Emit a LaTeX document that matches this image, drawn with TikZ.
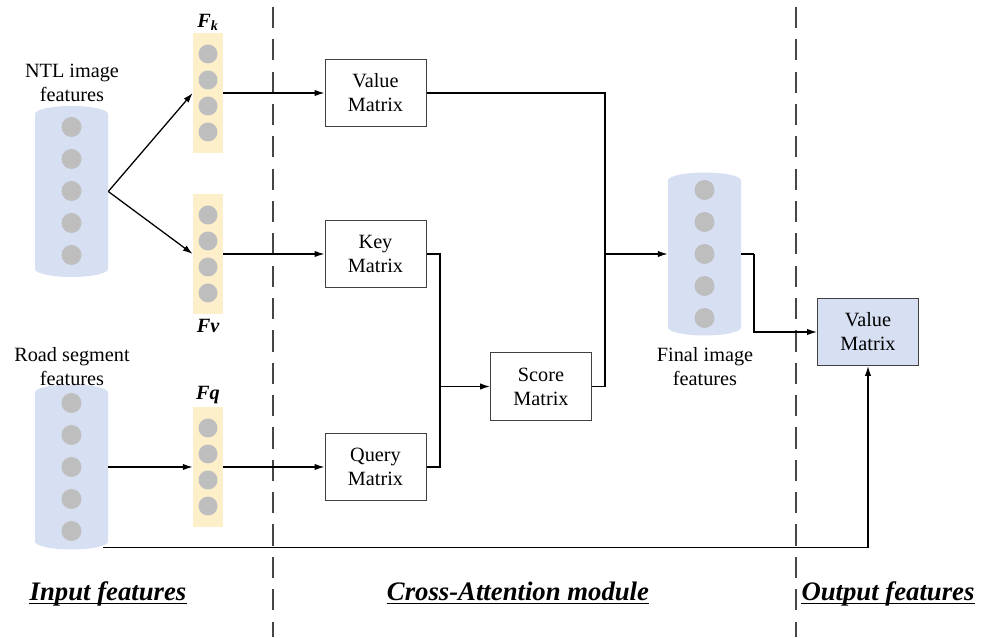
\documentclass[tikz,border=0pt]{standalone}
\usepackage{fontspec}
\setmainfont{Liberation Serif}
\usetikzlibrary{arrows.meta}
\definecolor{cylblue}{RGB}{215,223,243}
\definecolor{baryellow}{RGB}{252,239,201}
\definecolor{dotgray}{RGB}{190,190,190}
\definecolor{divgray}{RGB}{70,70,70}

\begin{document}
\begin{tikzpicture}[x=0.025cm,y=0.025cm,
  font=\fontsize{14.4}{17}\selectfont,
  mat/.style={draw=black!75,line width=0.7pt,minimum width=2.525cm,minimum height=1.675cm,align=center,inner sep=0pt},
  bar/.style={fill=baryellow,minimum width=0.75cm,minimum height=3cm,inner sep=0pt},
  cylarea/.style={inner sep=0pt,minimum width=1.825cm},
  flow/.style={line width=0.9pt,-{Latex[length=7pt,width=4.5pt]}},
  link/.style={line width=0.9pt},
  divider/.style={draw=divgray,line width=1.2pt,dash pattern=on 15pt off 8pt},
  vlabel/.style={font=\fontsize{14.4}{17}\selectfont\bfseries\itshape},
  part/.style={font=\fontsize{19}{22}\selectfont\bfseries\itshape,inner sep=0pt,anchor=base}]
\useasboundingbox (0,0) rectangle (990,637);
\draw[divider] (273,630) -- (273,0);
\draw[divider] (796,630) -- (796,0);
\fill[cylblue] (35,523) arc[start angle=180,end angle=0,x radius=36.5,y radius=8] -- (108,368) arc[start angle=0,end angle=-180,x radius=36.5,y radius=8] -- cycle;
\node[cylarea,minimum height=4.275cm] (ntl) at (71.5,445.5) {};
\fill[dotgray] (71.5,510) circle (10);
\fill[dotgray] (71.5,478) circle (10);
\fill[dotgray] (71.5,446) circle (10);
\fill[dotgray] (71.5,414) circle (10);
\fill[dotgray] (71.5,382) circle (10);
\node[align=center] (ntltxt) at (72,554.5) {NTL image\\features};
\fill[cylblue] (35,244.5) arc[start angle=180,end angle=0,x radius=36.5,y radius=8] -- (108,95.5) arc[start angle=0,end angle=-180,x radius=36.5,y radius=8] -- cycle;
\node[cylarea,minimum height=4.125cm] (road) at (71.5,170) {};
\fill[dotgray] (71.5,234) circle (10);
\fill[dotgray] (71.5,202) circle (10);
\fill[dotgray] (71.5,170) circle (10);
\fill[dotgray] (71.5,138) circle (10);
\fill[dotgray] (71.5,106) circle (10);
\node[align=center] (roadtxt) at (72,270) {Road segment\\features};
\node[bar] (fk) at (208,544) {};
\fill[dotgray] (208,583) circle (9.5);
\fill[dotgray] (208,557) circle (9.5);
\fill[dotgray] (208,531) circle (9.5);
\fill[dotgray] (208,505) circle (9.5);
\node[vlabel] (fklbl) at (208,615) {F\textsubscript{k}};
\node[bar] (fv) at (208,383) {};
\fill[dotgray] (208,422) circle (9.5);
\fill[dotgray] (208,396) circle (9.5);
\fill[dotgray] (208,370) circle (9.5);
\fill[dotgray] (208,344) circle (9.5);
\node[vlabel] (fvlbl) at (208,311) {Fv};
\node[bar] (fq) at (208,170) {};
\fill[dotgray] (208,209) circle (9.5);
\fill[dotgray] (208,183) circle (9.5);
\fill[dotgray] (208,157) circle (9.5);
\fill[dotgray] (208,131) circle (9.5);
\node[vlabel] (fqlbl) at (208,242) {Fq};
\node[mat] (value) at (375.5,544) {Value\\Matrix};
\node[mat] (key) at (375.5,383) {Key\\Matrix};
\node[mat] (query) at (375.5,170) {Query\\Matrix};
\node[mat] (score) at (541,250.5) {Score\\Matrix};
\fill[cylblue] (668,456.5) arc[start angle=180,end angle=0,x radius=36.5,y radius=8] -- (741,309.5) arc[start angle=0,end angle=-180,x radius=36.5,y radius=8] -- cycle;
\node[cylarea,minimum height=4.075cm] (final) at (704.5,383) {};
\fill[dotgray] (704.5,447) circle (10);
\fill[dotgray] (704.5,415) circle (10);
\fill[dotgray] (704.5,383) circle (10);
\fill[dotgray] (704.5,351) circle (10);
\fill[dotgray] (704.5,319) circle (10);
\node[align=center] (finaltxt) at (705,270.5) {Final image\\features};
\node[mat,fill=cylblue] (out) at (868,305) {Value\\Matrix};
\draw[flow] (ntl.east) -- (fk.west);
\draw[flow] (ntl.east) -- (fv.west);
\draw[flow] (road.east) -- (fq.west);
\draw[flow] (fk.east) -- (value.west);
\draw[flow] (fv.east) -- (key.west);
\draw[flow] (fq.east) -- (query.west);
\coordinate (kq) at (440,250.5);
\draw[link] (key.east) -| (kq);
\draw[link] (query.east) -| (kq);
\draw[flow] (kq) -- (score.west);
\coordinate (vs) at (605,383);
\draw[link] (value.east) -| (vs);
\draw[link] (score.east) -| (vs);
\draw[flow] (vs) -- (final.west);
\coordinate (fo) at (754,383);
\draw[link] (final.east) -- (fo);
\draw[flow] (fo) |- (out.west);
\draw[flow] ([shift={(-5,2.5)}]road.south east) -| (out.south);
\node[part] (inlbl) at (108,37) {Input features};
\node[part] (calbl) at (518,37) {Cross-Attention module};
\node[part] (outlbl) at (888,37) {Output features};
\draw[line width=1.1pt] ([yshift=-2.5pt]inlbl.base west) -- ([yshift=-2.5pt]inlbl.base east);
\draw[line width=1.1pt] ([yshift=-2.5pt]calbl.base west) -- ([yshift=-2.5pt]calbl.base east);
\draw[line width=1.1pt] ([yshift=-2.5pt]outlbl.base west) -- ([yshift=-2.5pt]outlbl.base east);
\end{tikzpicture}
\end{document}
